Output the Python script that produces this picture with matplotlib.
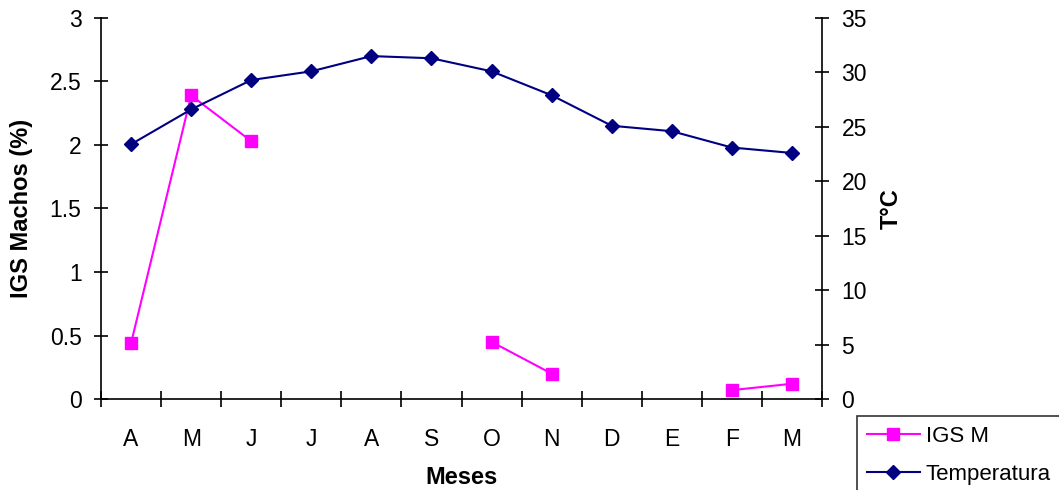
import numpy as np
import matplotlib
matplotlib.use('Agg')
import matplotlib.pyplot as plt

plt.rcParams['font.family'] = ['Liberation Sans', 'DejaVu Sans']

meses = ['A', 'M', 'J', 'J', 'A', 'S', 'O', 'N', 'D', 'E', 'F', 'M']
igs_m = [0.44, 2.39, 2.03, np.nan, np.nan, np.nan, 0.45, 0.20, np.nan, np.nan, 0.07, 0.12]
temperatura = [23.4, 26.6, 29.3, 30.1, 31.5, 31.3, 30.1, 27.9, 25.1, 24.6, 23.1, 22.6]

x = np.arange(len(meses))

fig = plt.figure(figsize=(10.59, 4.90), dpi=100)
ax = fig.add_axes([0.0954, 0.1857, 0.6808, 0.7776])
ax2 = ax.twinx()

l1, = ax.plot(x, igs_m, color='#ff00ff', marker='s', markersize=8, linewidth=1.5, label='IGS M')
l2, = ax2.plot(x, temperatura, color='#000080', marker='D', markersize=7, linewidth=1.5, label='Temperatura')

ax.set_xlim(-0.5, len(meses) - 0.5)
ax.set_ylim(0, 3)
ax.set_yticks(np.arange(0, 3.01, 0.5))
ax.set_yticklabels(['0', '0.5', '1', '1.5', '2', '2.5', '3'])
ax2.set_ylim(0, 35)
ax2.set_yticks(np.arange(0, 36, 5))

ax.set_xticks(x)
ax.set_xticklabels(meses)
ax.set_xticks(np.arange(-0.5, len(meses), 1), minor=True)
ax.tick_params(axis='x', which='major', length=0, labelsize=16.5, pad=21)
ax.tick_params(axis='x', which='minor', direction='inout', length=12, width=1.2)
ax.tick_params(axis='y', direction='inout', length=10, width=1.2, labelsize=16.5, pad=9)
ax2.tick_params(axis='y', direction='inout', length=10, width=1.2, labelsize=16.5, pad=9)

for a in (ax, ax2):
    a.spines['top'].set_visible(False)
    for s in a.spines.values():
        s.set_linewidth(1.2)
ax.spines['right'].set_visible(False)
ax2.spines['left'].set_visible(False)
ax2.spines['bottom'].set_visible(False)

ax.set_ylabel('IGS Machos (%)', fontsize=17, fontweight='bold', labelpad=12)
ax2.set_ylabel('T°C', fontsize=17, fontweight='bold', labelpad=9)
ax.set_xlabel('Meses', fontsize=17, fontweight='bold', labelpad=11)

leg = fig.legend(handles=[l1, l2], loc='upper left', bbox_to_anchor=(0.809, 0.151),
                 fontsize=16, frameon=True, fancybox=False, borderpad=0.45,
                 handlelength=2.4, handletextpad=0.25, labelspacing=0.75,
                 borderaxespad=0)
leg.get_frame().set_edgecolor('black')
leg.get_frame().set_linewidth(1.2)

fig.savefig('out.png', dpi=100, facecolor='w')
